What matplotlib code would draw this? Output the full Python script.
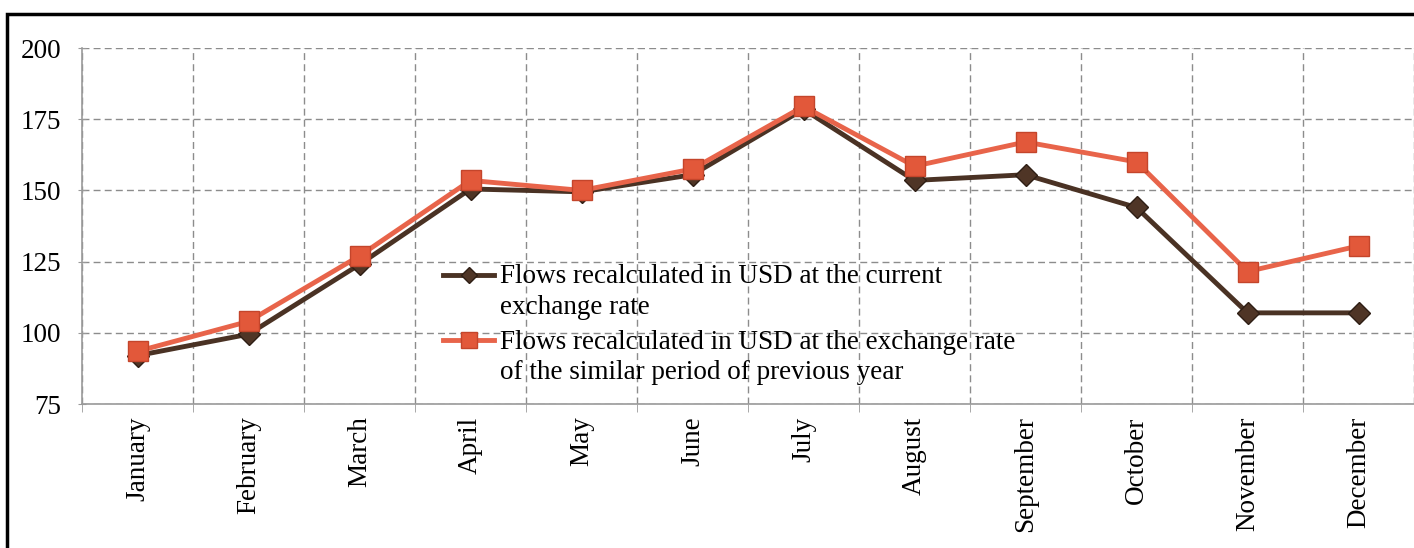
"""Monthly flows recalculated in USD, two exchange-rate variants."""

import matplotlib

matplotlib.use("Agg")
import matplotlib.pyplot as plt
from matplotlib.legend_handler import HandlerLine2D
from matplotlib.patches import Rectangle

months = [
    "January", "February", "March", "April", "May", "June",
    "July", "August", "September", "October", "November", "December",
]
current_rate = [92, 99.5, 124, 150.5, 149.5, 155.5, 178.5, 153.5, 155.5, 144, 107, 107]
previous_rate = [93.5, 104, 127, 153.5, 150, 157.5, 179.5, 158.5, 167, 160, 121.5, 130.5]
y_ticks = [75, 100, 125, 150, 175, 200]

label_current = "Flows recalculated in USD at the current\nexchange rate"
label_previous = "Flows recalculated in USD at the exchange rate\nof the similar period of previous year"

BROWN = "#4a3224"
ORANGE = "#e8644a"
GRID = "#8c8c8c"
AXIS = "#9a9a9a"
FONT_SIZE = 19.5


class FirstLineHandler(HandlerLine2D):
    """Put the legend handle next to the first line of a two-line label."""

    def create_artists(self, legend, orig_handle, xdescent, ydescent,
                       width, height, fontsize, trans):
        artists = super().create_artists(legend, orig_handle, xdescent, ydescent,
                                         width, height, fontsize, trans)
        for artist in artists:
            artist.set_ydata([y + 0.65 * fontsize for y in artist.get_ydata()])
        return artists


plt.rcParams["font.family"] = ["Liberation Serif", "DejaVu Serif"]

fig = plt.figure(figsize=(14.14, 5.48), dpi=100)
ax = fig.add_axes([82 / 1414, 1 - 404 / 548, 1 - 82 / 1414, (404 - 48) / 548])

x = list(range(len(months)))
line_cur, = ax.plot(x, current_rate, color=BROWN, linewidth=3.5, marker="D", markersize=11,
                    markerfacecolor="#4f3526", markeredgecolor="#2e1e14",
                    markeredgewidth=1, label=label_current, zorder=3)
line_prev, = ax.plot(x, previous_rate, color=ORANGE, linewidth=3.5, marker="s",
                     markersize=15, markerfacecolor="#e2583a", markeredgecolor="#c4452b",
                     markeredgewidth=1, label=label_previous, zorder=4)

ax.set_xlim(-0.5, len(months) - 0.5)
ax.set_ylim(75, 200)
ax.set_yticks(y_ticks)
ax.set_xticks(x)
ax.set_xticklabels(months, rotation=90, fontsize=FONT_SIZE)
ax.set_xticks([i - 0.5 for i in range(len(months) + 1)], minor=True)
ax.tick_params(axis="x", which="major", length=0, pad=9)
ax.tick_params(axis="x", which="minor", length=6, direction="out", color=AXIS)
ax.tick_params(axis="y", length=6, direction="inout", color=AXIS,
               labelsize=FONT_SIZE, pad=12)

ax.grid(True, axis="y", which="major", linestyle=(0, (5, 3)), color=GRID, linewidth=1)
ax.grid(True, axis="x", which="minor", linestyle=(0, (5, 3)), color=GRID, linewidth=1)
ax.grid(False, axis="x", which="major")

for side in ("top", "right"):
    ax.spines[side].set_visible(False)
for side in ("left", "bottom"):
    ax.spines[side].set_color(AXIS)
    ax.spines[side].set_linewidth(1.2)

leg = ax.legend(handles=[line_cur, line_prev], loc="upper left",
                bbox_to_anchor=(0.271, 0.392), frameon=False, fontsize=FONT_SIZE,
                handlelength=1.9, handletextpad=0.2, labelspacing=0.35,
                borderpad=0, borderaxespad=0, markerscale=0.75,
                handler_map={line_cur: FirstLineHandler(), line_prev: FirstLineHandler()})
for text in leg.get_texts():
    text.set_linespacing(1.3)

fig.patches.append(Rectangle((7 / 1414, -0.1), 1.2, 1.1 - 14 / 548,
                             transform=fig.transFigure, fill=False,
                             edgecolor="black", linewidth=2.5))

fig.savefig("out.png", dpi=100)
